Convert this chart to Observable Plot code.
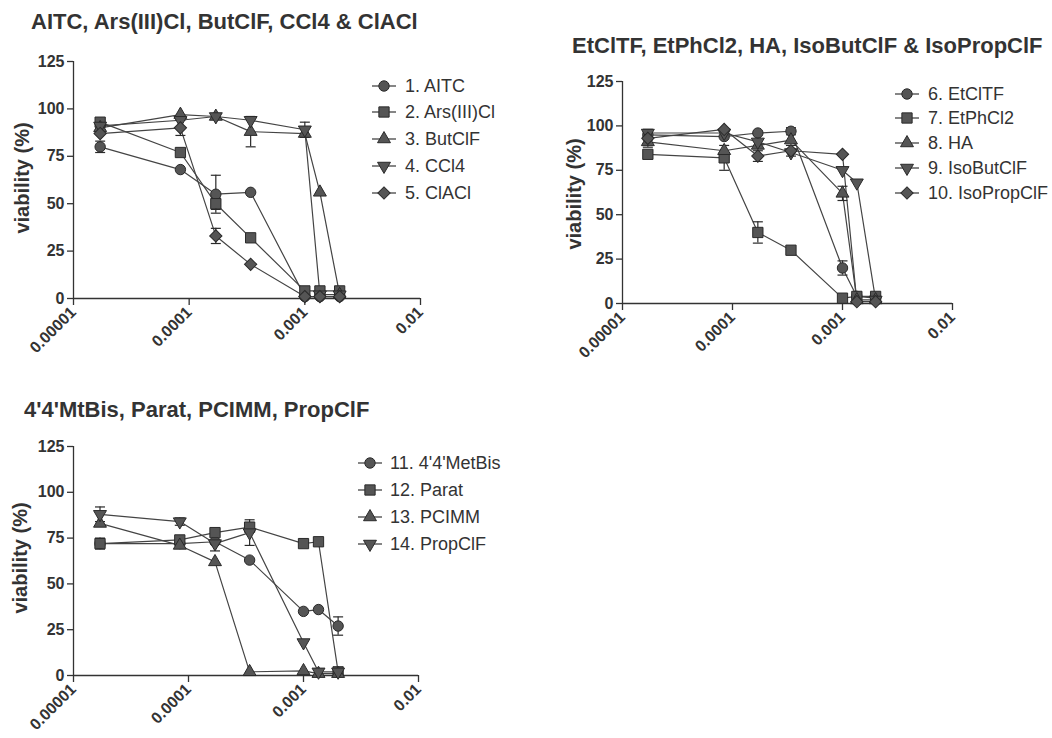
<!DOCTYPE html>
<html>
<head>
<meta charset="utf-8">
<script src="https://cdn.jsdelivr.net/npm/d3@7"></script>
<script src="https://cdn.jsdelivr.net/npm/@observablehq/plot@0.6"></script>
<style>
  html, body { margin: 0; padding: 0; background: #ffffff; }
  #wrap { position: relative; width: 1052px; height: 738px; overflow: hidden; font-family: "Liberation Sans", Arial, sans-serif; }
  .panel { position: absolute; }
  #overlay { position: absolute; left: 0; top: 0; pointer-events: none; }
</style>
</head>
<body>
<div id="wrap"></div>
<script>
// ---------- shared data ----------
const conc = [1.7e-5, 8.4e-5, 1.7e-4, 3.4e-4, 1.0e-3, 1.35e-3, 2.0e-3];
const xTicks = [1e-5, 1e-4, 1e-3, 1e-2];
const xTickLabels = ["0.00001", "0.0001", "0.001", "0.01"];
const yTicks = [0, 25, 50, 75, 100, 125];
const yLabel = "viability (%)";
const shapes = ["circle", "square", "triangle", "down", "diamond"];

// ---------- panel 1 ----------
const title1 = "AITC, Ars(III)Cl, ButClF, CCl4 & ClACl";
const names1 = ["1. AITC", "2. Ars(III)Cl", "3. ButClF", "4. CCl4", "5. ClACl"];
const aitc   = [80, 68, 55, 56, 1, 1, 1];
const arsCl  = [93, 77, 50, 32, 4, 4, 4];
const butClF = [90, 97, 96, 88, 87, 56, 2];
const ccl4   = [91, 94, 96, 94, 89, 2, 2];
const clACl  = [87, 90, 33, 18, 1, 1, 1];
const aitcErr   = [3, 0, 10, 0, 0, 0, 0];
const arsClErr  = [0, 0, 3, 0, 0, 0, 0];
const butClFErr = [0, 0, 0, 8, 0, 0, 0];
const ccl4Err   = [0, 0, 0, 0, 4, 0, 0];
const clAClErr  = [0, 4, 4, 0, 0, 0, 0];

// ---------- panel 2 ----------
const title2 = "EtClTF, EtPhCl2, HA, IsoButClF & IsoPropClF";
const names2 = ["6. EtClTF", "7. EtPhCl2", "8. HA", "9. IsoButClF", "10. IsoPropClF"];
const etClTF     = [95, 94, 96, 97, 20, 4, 3];
const etPhCl2    = [84, 82, 40, 30, 3, 4, 4];
const ha         = [91, 86, 89, 92, 62, 2, 2];
const isoButClF  = [96, 96, 91, 85, 75, 68, 2];
const isoPropClF = [93, 98, 83, 86, 84, 1, 1];
const etClTFErr     = [3, 0, 0, 2, 4, 0, 0];
const etPhCl2Err    = [0, 7, 6, 0, 0, 0, 0];
const haErr         = [3, 0, 0, 0, 4, 0, 0];
const isoButClFErr  = [2, 0, 0, 0, 0, 0, 0];
const isoPropClFErr = [0, 0, 3, 3, 0, 0, 0];

// ---------- panel 3 ----------
const title3 = "4'4'MtBis, Parat, PCIMM, PropClF";
const names3 = ["11. 4'4'MetBis", "12. Parat", "13. PCIMM", "14. PropClF"];
const metBis  = [72, 72, 73, 63, 35, 36, 27];
const parat   = [72, 74, 78, 81, 72, 73, 2];
const pcimm   = [83, 71, 62, 2, 2.5, 1, 1];
const propClF = [88, 84, 72, 78, 18, 2, 2];
const metBisErr  = [0, 0, 0, 0, 0, 0, 5];
const paratErr   = [3, 0, 0, 0, 0, 0, 0];
const pcimmErr   = [0, 0, 0, 0, 0, 0, 0];
const propClFErr = [4, 2, 4, 7, 0, 0, 0];

// ---------- styling ----------
const TEXT = "#333333";
const LINE = "#444444";
const FILL = "#555555";
const EDGE = "#2a2a2a";
const FONT = "'Liberation Sans', Arial, sans-serif";

const shapeSpec = {
  circle:   {symbol: "circle",   r: 5.2, rotate: 0},
  square:   {symbol: "square",   r: 5.8, rotate: 0},
  triangle: {symbol: "triangle", r: 4.8, rotate: 0},
  down:     {symbol: "triangle", r: 4.8, rotate: 180},
  diamond:  {symbol: "square",   r: 4.9, rotate: 45}
};
const capSymbol = {draw(ctx) { ctx.moveTo(-5, 0); ctx.lineTo(5, 0); }};

function buildRows(names, values, errs) {
  const rows = [];
  names.forEach((name, s) => {
    values[s].forEach((v, i) => rows.push({name, shape: shapes[s], x: conc[i], y: v, e: errs[s][i]}));
  });
  return rows;
}

function panel(cfg) {
  const rows = buildRows(cfg.names, cfg.values, cfg.errs);
  const errRows = rows.filter(d => d.e > 0);
  const labelOf = new Map(xTicks.map((t, i) => [t, xTickLabels[i]]));
  const dotMarks = shapes.map(sh => {
    const sp = shapeSpec[sh];
    return Plot.dot(rows.filter(d => d.shape === sh), {
      x: "x", y: "y", symbol: sp.symbol, r: sp.r, rotate: sp.rotate,
      fill: FILL, stroke: EDGE, strokeWidth: 1
    });
  });
  const chart = Plot.plot({
    width: cfg.width, height: cfg.height,
    marginLeft: cfg.ml, marginRight: cfg.mr, marginTop: cfg.mt, marginBottom: cfg.mb,
    style: {fontFamily: FONT, fontSize: "16px", fontWeight: "bold", color: TEXT, background: "transparent", overflow: "visible"},
    x: {type: "log", domain: [xTicks[0], xTicks[xTicks.length - 1]]},
    y: {domain: [0, 125]},
    marks: [
      Plot.axisY({ticks: yTicks, tickSize: 6, tickPadding: 3, label: null, stroke: TEXT, strokeWidth: 1.3, fill: TEXT}),
      Plot.axisX({ticks: xTicks, tickFormat: d => labelOf.get(d), tickRotate: -45, tickSize: 7, tickPadding: 4, label: null, stroke: TEXT, strokeWidth: 1.3, fill: TEXT}),
      Plot.ruleX([xTicks[0]], {y1: 0, y2: 125, stroke: TEXT, strokeWidth: 1.3}),
      Plot.ruleY([0], {x1: xTicks[0], x2: xTicks[xTicks.length - 1], stroke: TEXT, strokeWidth: 1.3}),
      Plot.line(rows, {x: "x", y: "y", z: "name", stroke: LINE, strokeWidth: 1.2}),
      Plot.ruleX(errRows, {x: "x", y1: d => d.y - d.e, y2: d => d.y + d.e, stroke: EDGE, strokeWidth: 1.2}),
      Plot.dot(errRows, {x: "x", y: d => d.y + d.e, symbol: capSymbol, fill: "none", stroke: EDGE, strokeWidth: 1.2}),
      Plot.dot(errRows, {x: "x", y: d => d.y - d.e, symbol: capSymbol, fill: "none", stroke: EDGE, strokeWidth: 1.2}),
      ...dotMarks
    ]
  });
  chart.classList.add("panel");
  chart.style.left = cfg.left + "px";
  chart.style.top = cfg.top + "px";
  document.getElementById("wrap").appendChild(chart);
}

panel({names: names1, values: [aitc, arsCl, butClF, ccl4, clACl], errs: [aitcErr, arsClErr, butClFErr, ccl4Err, clAClErr],
  left: 0, top: 40, width: 430, height: 318, ml: 73, mr: 10, mt: 21, mb: 60});
panel({names: names2, values: [etClTF, etPhCl2, ha, isoButClF, isoPropClF], errs: [etClTFErr, etPhCl2Err, haErr, isoButClFErr, isoPropClFErr],
  left: 552, top: 60, width: 410, height: 303, ml: 70, mr: 10, mt: 21, mb: 60});
panel({names: names3, values: [metBis, parat, pcimm, propClF], errs: [metBisErr, paratErr, pcimmErr, propClFErr],
  left: 0, top: 425, width: 428, height: 313, ml: 73, mr: 10, mt: 21, mb: 63});

// ---------- overlay: titles, y labels, legends ----------
const svg = d3.select("#wrap").append("svg").attr("id", "overlay").attr("width", 1052).attr("height", 738)
  .style("font-family", FONT);

const titles = [
  {text: title1, x: 31, y: 29},
  {text: title2, x: 572, y: 53},
  {text: title3, x: 24, y: 417}
];
titles.forEach(t => svg.append("text").attr("x", t.x).attr("y", t.y).attr("fill", TEXT)
  .attr("font-size", 22).attr("font-weight", "bold").text(t.text));

const yLabels = [{x: 22, y: 178}, {x: 574, y: 194}, {x: 20, y: 558}];
yLabels.forEach(p => svg.append("text").attr("transform", `translate(${p.x},${p.y}) rotate(-90)`)
  .attr("text-anchor", "middle").attr("dominant-baseline", "central").attr("fill", TEXT)
  .attr("font-size", 20).attr("font-weight", "bold").text(yLabel));

const symbolOf = {circle: d3.symbolCircle, square: d3.symbolSquare, triangle: d3.symbolTriangle, down: d3.symbolTriangle, diamond: d3.symbolSquare};
function legend(names, mx, tx, ys) {
  names.forEach((name, i) => {
    const sh = shapes[i], sp = shapeSpec[sh], y = ys[i];
    svg.append("line").attr("x1", mx - 12).attr("x2", mx + 12).attr("y1", y).attr("y2", y).attr("stroke", LINE).attr("stroke-width", 1.3);
    svg.append("path").attr("d", d3.symbol(symbolOf[sh], Math.PI * sp.r * sp.r)())
      .attr("transform", `translate(${mx},${y}) rotate(${sp.rotate})`)
      .attr("fill", FILL).attr("stroke", EDGE);
    svg.append("text").attr("x", tx).attr("y", y).attr("dominant-baseline", "central")
      .attr("font-size", 18).attr("fill", TEXT).text(name);
  });
}
legend(names1, 384, 405, [86, 112, 139, 166, 193]);
legend(names2, 907, 928, [94, 118, 143, 168, 193]);
legend(names3, 370, 390, [463, 490, 517, 544]);
</script>
</body>
</html>
